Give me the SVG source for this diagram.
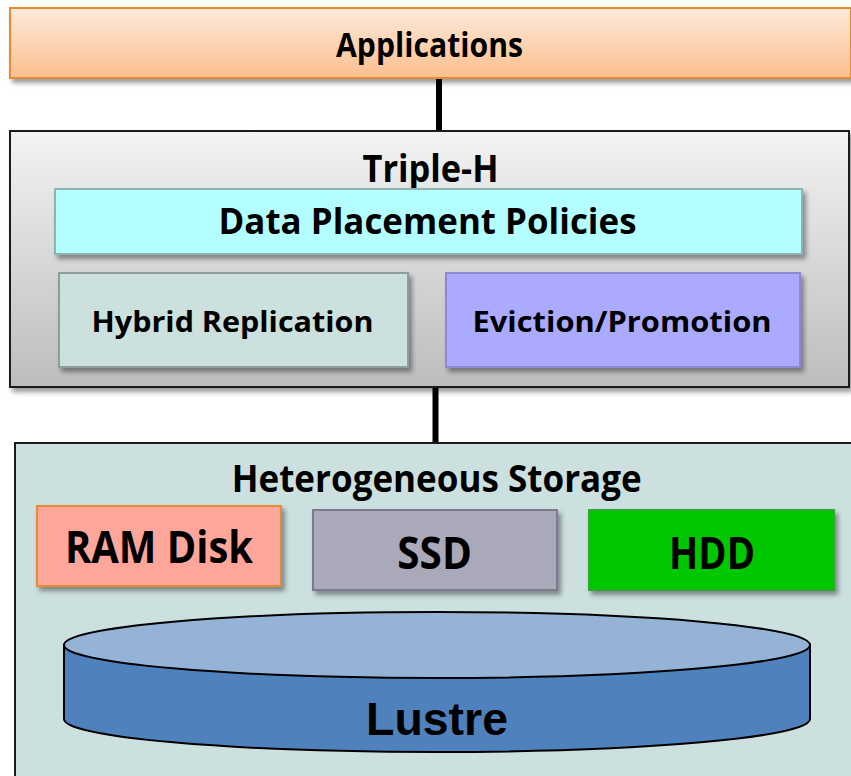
<svg xmlns="http://www.w3.org/2000/svg" width="851" height="776" viewBox="0 0 851 776">
<defs>
  <linearGradient id="gApp" x1="0" y1="0" x2="0" y2="1">
    <stop offset="0" stop-color="#fde9da"/>
    <stop offset="1" stop-color="#fbbf8e"/>
  </linearGradient>
  <linearGradient id="gTri" x1="0" y1="0" x2="0" y2="1">
    <stop offset="0" stop-color="#f3f3f3"/>
    <stop offset="1" stop-color="#bdbdbd"/>
  </linearGradient>
  <filter id="sh" x="-10%" y="-10%" width="130%" height="140%">
    <feDropShadow dx="3" dy="4" stdDeviation="2.5" flood-color="#000" flood-opacity="0.4"/>
  </filter>
</defs>
<style>
  .t { font-family: "Open Sans", Lato, "Liberation Sans", sans-serif; font-weight: bold; fill: #000; text-anchor: middle; }
  .conn { stroke: #000; stroke-width: 6; fill: none; }
</style>
<rect width="851" height="776" fill="#ffffff"/>

<g id="connectors">
  <line class="conn" x1="439" y1="78" x2="439" y2="131"/>
  <line class="conn" x1="435.5" y1="387" x2="435.5" y2="444"/>
</g>

<g id="applications">
  <rect x="10" y="8" width="841" height="70" fill="url(#gApp)" stroke="#e88a30" stroke-width="2" filter="url(#sh)"/>
  <text class="t" x="429.5" y="57.3" font-size="33.5" textLength="187" lengthAdjust="spacingAndGlyphs">Applications</text>
</g>

<g id="triple-h">
  <rect x="10" y="131" width="839" height="256" fill="url(#gTri)" stroke="#1a1a1a" stroke-width="2" filter="url(#sh)"/>
  <text class="t" x="430.5" y="181.7" font-size="37" textLength="136" lengthAdjust="spacingAndGlyphs">Triple-H</text>
</g>

<g id="data-placement">
  <rect x="55" y="189" width="747" height="65" fill="#b3ffff" stroke="#8fb3b3" stroke-width="2" filter="url(#sh)"/>
  <text class="t" x="427.5" y="234.3" font-size="36" textLength="418" lengthAdjust="spacingAndGlyphs">Data Placement Policies</text>
</g>

<g id="hybrid-replication">
  <rect x="59" y="273" width="349" height="94" fill="#cce0dd" stroke="#8d9d9b" stroke-width="2" filter="url(#sh)"/>
  <text class="t" x="232.5" y="331.7" font-size="29.3" textLength="282" lengthAdjust="spacingAndGlyphs">Hybrid Replication</text>
</g>

<g id="eviction-promotion">
  <rect x="446" y="273" width="354" height="94" fill="#aaaaff" stroke="#8a8acf" stroke-width="2" filter="url(#sh)"/>
  <text class="t" x="622" y="331.7" font-size="29.3" textLength="299" lengthAdjust="spacingAndGlyphs">Eviction/Promotion</text>
</g>

<g id="heterogeneous-storage">
  <rect x="15" y="443" width="840" height="340" fill="#cce0df" stroke="#1a1a1a" stroke-width="2"/>
  <text class="t" x="436.7" y="491.7" font-size="37" textLength="410" lengthAdjust="spacingAndGlyphs">Heterogeneous Storage</text>
</g>

<g id="ram-disk">
  <rect x="37" y="506" width="244" height="80" fill="#ffa69b" stroke="#e88a30" stroke-width="2" filter="url(#sh)"/>
  <text class="t" x="159" y="563.3" font-size="44" textLength="188" lengthAdjust="spacingAndGlyphs">RAM Disk</text>
</g>

<g id="ssd">
  <rect x="313" y="510" width="244" height="80" fill="#aaa9ba" stroke="#7b7a8e" stroke-width="2" filter="url(#sh)"/>
  <text class="t" x="434.6" y="568.5" font-size="45" textLength="74.5" lengthAdjust="spacingAndGlyphs">SSD</text>
</g>

<g id="hdd">
  <rect x="589" y="510" width="245" height="80" fill="#00c800" stroke="#33a633" stroke-width="2" filter="url(#sh)"/>
  <text class="t" x="712" y="568.5" font-size="45" textLength="86" lengthAdjust="spacingAndGlyphs">HDD</text>
</g>

<g id="lustre">
  <path d="M64,645 L64,719 A373,33 0 0 0 810,719 L810,645 Z" fill="#4f81bd" stroke="#000" stroke-width="2"/>
  <ellipse cx="437" cy="645" rx="373" ry="33" fill="#95b3d7" stroke="#000" stroke-width="2"/>
  <text x="437" y="735" font-family="'Liberation Sans', Arial, sans-serif" font-weight="bold" font-size="46" text-anchor="middle" textLength="142" lengthAdjust="spacingAndGlyphs">Lustre</text>
</g>
</svg>
